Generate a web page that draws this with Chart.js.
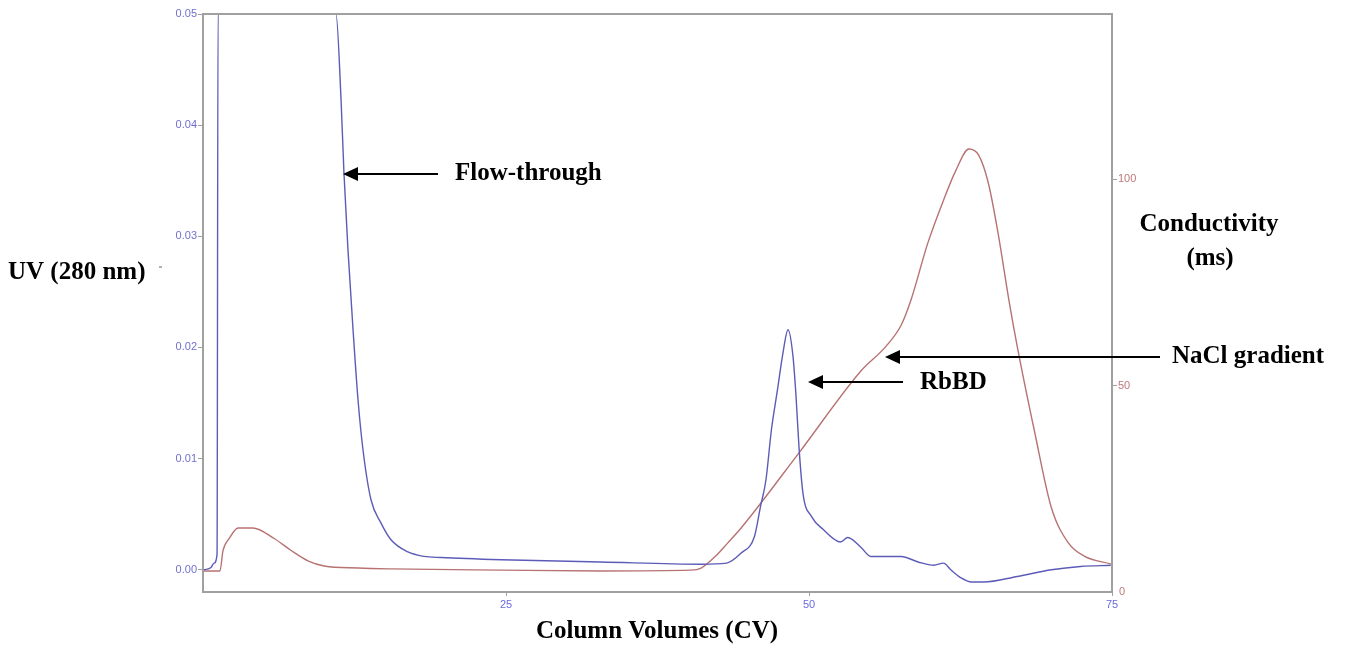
<!DOCTYPE html>
<html>

<head>
  <title>Chromatogram</title>
  <style>
    html, body {
      margin: 0;
      padding: 0;
      background: #ffffff;
    }

    #wrap {
      width: 1358px;
      height: 653px;
    }
  </style>
  <script src="https://cdn.jsdelivr.net/npm/chart.js"></script>
</head>

<body>
  <div id="wrap">
    <canvas id="myChart" width="1358" height="653"></canvas>
  </div>

  <script>
    // UV 280 nm trace (left axis)
    var uvCV = [0.08, 0.66, 0.91, 1.16, 1.24, 10.97, 11.39, 11.63, 11.96, 12.38, 12.79, 13.2, 13.86, 14.69, 15.51,
      16.91, 18.23, 19.64, 24.6, 32.8, 41.1, 43.2, 44.4, 45.5, 46.0, 46.45, 46.9, 47.4, 47.85, 48.27, 48.68,
      48.93, 49.17, 49.5, 50.2, 51.2, 52.6, 53.2, 54.3, 55.1, 57.6, 59.0, 60.3, 61.1, 61.7, 62.5, 63.4, 64.4,
      67.2, 70.0, 72.4, 74.9];
    var uvValues = [0, 0.0002, 0.0006, 0.0014, 0.05, 0.05, 0.0423, 0.0357, 0.0288, 0.0216, 0.0153, 0.0108, 0.0063,
      0.0042, 0.0027, 0.0016, 0.0012, 0.0011, 0.0009, 0.0007, 0.0005, 0.0006, 0.0015, 0.003, 0.0057, 0.0081,
      0.0126, 0.0162, 0.0195, 0.0216, 0.0192, 0.0156, 0.0111, 0.0069, 0.0048, 0.0036, 0.0025, 0.0029, 0.002,
      0.0012, 0.0012, 0.0007, 0.0004, 0.0006, 0, -0.0007, -0.0011, -0.0011, -0.0006, 0, 0.0003, 0.0004];

    // conductivity trace (right axis)
    var condCV = [0.08, 1.4, 1.65, 2.15, 2.9, 4.1, 5.9, 7.3, 8.7, 10.0, 12.8, 15.5, 24.6, 32.8, 40.3, 41.1, 42.3,
      43.3, 44.4, 49.3, 54.3, 56.35, 57.6, 58.4, 59.8, 61.1, 62.1, 63.2, 64.0, 64.8, 65.6, 66.5, 67.2, 68.6,
      70.0, 71.4, 72.7, 74.9];
    var condValues = [5.1, 5.1, 10, 12.9, 15.5, 15.5, 12.9, 10, 7.5, 6.3, 5.8, 5.6, 5.3, 5.1, 5.3, 5.8, 8.7, 11.9,
      15.5, 34.2, 53.6, 59.5, 64.6, 70.6, 84.5, 94.9, 102, 107.3, 105.8, 99, 86.9, 70.6, 59.2, 39, 20.4, 11.9,
      8.7, 6.8];

    var uvTicks = [0, 0.01, 0.02, 0.03, 0.04, 0.05];
    var condTicks = [50, 100];
    var cvTicks = [25, 50, 75];

    function toPoints(xs, ys) {
      return xs.map(function (x, i) { return { x: x, y: ys[i] }; });
    }

    function setTicks(list) {
      return function (scale) {
        scale.ticks = list.map(function (v) { return { value: v }; });
      };
    }

    function arrow(ctx, tipX, tailX, y) {
      ctx.save();
      ctx.strokeStyle = "#000";
      ctx.fillStyle = "#000";
      ctx.lineWidth = 2;
      ctx.beginPath();
      ctx.moveTo(tailX, y);
      ctx.lineTo(tipX + 12, y);
      ctx.stroke();
      ctx.beginPath();
      ctx.moveTo(tipX, y);
      ctx.lineTo(tipX + 15, y - 7);
      ctx.lineTo(tipX + 15, y + 7);
      ctx.closePath();
      ctx.fill();
      ctx.restore();
    }

    var labelsPlugin = {
      id: "labels",
      afterDraw: function (chart) {
        var ctx = chart.ctx;
        var a = chart.chartArea;

        // top border of the plot box
        ctx.save();
        ctx.strokeStyle = "#a0a0a0";
        ctx.lineWidth = 2;
        ctx.beginPath();
        ctx.moveTo(a.left, a.top);
        ctx.lineTo(a.right, a.top);
        ctx.stroke();

        // little stray mark after the UV title
        ctx.fillStyle = "#b0b0b0";
        ctx.fillRect(159, 266, 3, 2);

        ctx.fillStyle = "#000";
        ctx.font = "bold 25px 'Liberation Serif'";
        ctx.textBaseline = "middle";
        ctx.textAlign = "left";
        ctx.fillText("UV (280 nm)", 8, 273);
        ctx.fillText("Flow-through", 455, 174);
        ctx.fillText("NaCl gradient", 1172, 357);
        ctx.fillText("RbBD", 920, 383);
        ctx.textAlign = "center";
        ctx.fillText("Conductivity", 1209, 225);
        ctx.fillText("(ms)", 1210, 259);
        ctx.fillText("Column Volumes (CV)", 657, 632);

        // red "0" at the bottom of the right axis
        ctx.font = "11px 'Liberation Sans'";
        ctx.fillStyle = "#c07878";
        ctx.textAlign = "left";
        ctx.fillText("0", 1119, 592);
        ctx.restore();

        arrow(ctx, 343, 438, 174);
        arrow(ctx, 885, 1160, 357);
        arrow(ctx, 808, 903, 382);
      }
    };

    var ctx = document.getElementById("myChart").getContext("2d");
    var myChart = new Chart(ctx, {
      type: "line",
      data: {
        datasets: [{
          label: "UV",
          data: toPoints(uvCV, uvValues),
          borderColor: "#5c5cb8",
          borderWidth: 1.4,
          pointRadius: 0,
          cubicInterpolationMode: "monotone",
          yAxisID: "y"
        }, {
          label: "Conductivity",
          data: toPoints(condCV, condValues),
          borderColor: "#b87272",
          borderWidth: 1.4,
          pointRadius: 0,
          cubicInterpolationMode: "monotone",
          yAxisID: "y2"
        }]
      },
      options: {
        responsive: false,
        animation: false,
        layout: { padding: { top: 14, left: 0, right: 0, bottom: 0 } },
        plugins: {
          legend: { display: false },
          tooltip: { enabled: false }
        },
        scales: {
          x: {
            type: "linear",
            min: 0,
            max: 75,
            afterBuildTicks: setTicks(cvTicks),
            afterFit: function (scale) { scale.height = 61; },
            grid: { drawOnChartArea: false, drawTicks: true, tickLength: 4, color: "#a0a0a0" },
            border: { color: "#a0a0a0", width: 2 },
            ticks: {
              color: "#6a6ae0",
              font: { size: 11, family: "'Liberation Sans'" },
              padding: 2,
              maxRotation: 0
            }
          },
          y: {
            position: "left",
            min: -0.002,
            max: 0.05,
            afterBuildTicks: setTicks(uvTicks),
            afterFit: function (scale) { scale.width = 203; },
            grid: { drawOnChartArea: false, drawTicks: true, tickLength: 5, color: "#a0a0a0" },
            border: { color: "#a0a0a0", width: 2 },
            ticks: {
              color: "#7070d0",
              font: { size: 11, family: "'Liberation Sans'" },
              padding: 1,
              callback: function (v) { return v.toFixed(2); }
            }
          },
          y2: {
            position: "right",
            min: 0,
            max: 140,
            afterBuildTicks: setTicks(condTicks),
            afterFit: function (scale) { scale.width = 246; },
            grid: { drawOnChartArea: false, drawTicks: true, tickLength: 5, color: "#a0a0a0" },
            border: { color: "#a0a0a0", width: 2 },
            ticks: {
              color: "#c07878",
              font: { size: 11, family: "'Liberation Sans'" },
              padding: 1
            }
          }
        }
      },
      plugins: [labelsPlugin]
    });
  </script>

</body>

</html>
